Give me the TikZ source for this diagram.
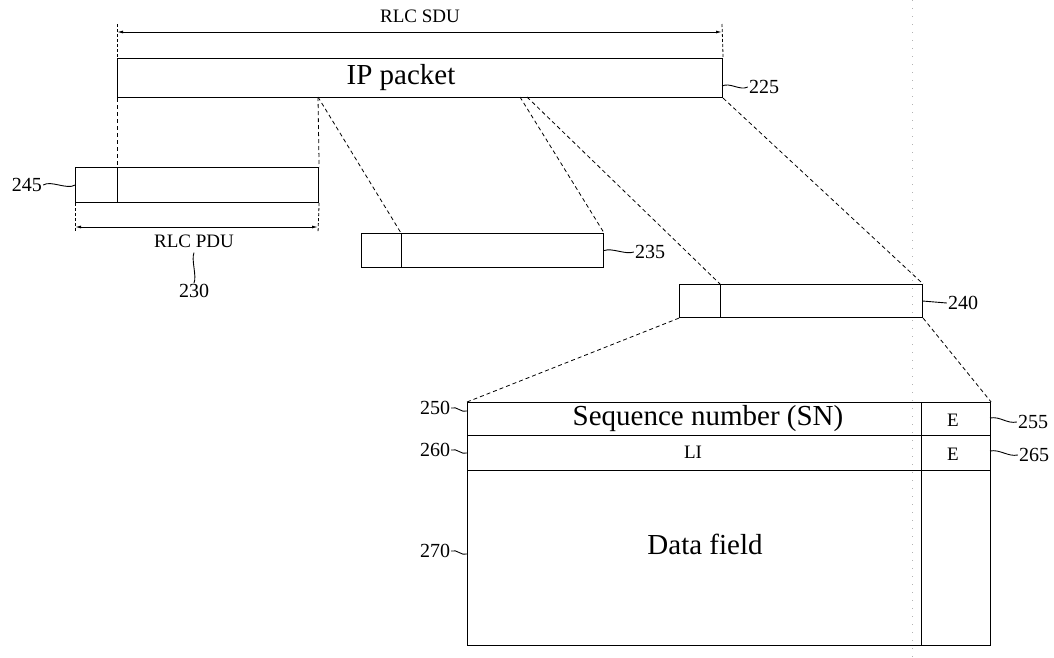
\documentclass[tikz,border=0pt]{standalone}
\usepackage{fontspec}
\setmainfont{Liberation Serif}
\usetikzlibrary{arrows.meta}
\begin{document}
\begin{tikzpicture}[x=1pt,y=-1pt,
  box/.style={draw, line width=1.1pt, rectangle, inner sep=0pt, anchor=north west},
  big/.style={font=\fontsize{29}{30}\selectfont, inner sep=0pt},
  num/.style={font=\fontsize{20}{21}\selectfont, inner sep=1pt},
  lbl/.style={font=\fontsize{19}{20}\selectfont, inner sep=1pt},
  proj/.style={line width=0.8pt, dash pattern=on 4pt off 3pt},
  ext/.style={line width=0.8pt, dash pattern=on 3pt off 2pt},
  dimline/.style={line width=0.9pt, {Latex[length=6pt,width=3pt]}-{Latex[length=6pt,width=3pt]}},
  leader/.style={line width=0.9pt},
  fold/.style={gray!60, line width=0.6pt, dash pattern=on 1pt off 7pt}
]
\useasboundingbox (0,0) rectangle (1054,657);

% faint fold line of the scan
\coordinate (foldt) at (912,0);
\coordinate (foldb) at (912,657);
\draw[fold] (foldt) -- (foldb);

% IP packet (RLC SDU)
\node[box, minimum width=605pt, minimum height=39pt] (ip) at (117,58) {};
\node[big] (iptext) at (401,78) {IP packet};
\coordinate (ipa) at (318,97);
\coordinate (ipb) at (520,97);
\coordinate (ipc) at (527,97);
\coordinate (ip225) at (722,86);

% RLC SDU dimension
\coordinate (sdul) at (117,32);
\coordinate (sdur) at (722,32);
\coordinate (sdulx) at (117,24);
\coordinate (sdurx) at (722,24);
\draw[ext] (sdulx) -- (ip.north west);
\draw[ext] (sdurx) -- (ip.north east);
\draw[dimline] (sdul) -- (sdur);
\node[lbl] (sdutext) at (420,16) {RLC SDU};

% RLC PDU 245
\node[box, minimum width=42pt, minimum height=35pt] (h245) at (75,167) {};
\node[box, minimum width=201pt, minimum height=35pt] (p245) at (117,167) {};

% RLC PDU dimension
\coordinate (pdul) at (75,227);
\coordinate (pdur) at (318,227);
\coordinate (pdulx) at (75,233);
\coordinate (pdurx) at (318,233);
\draw[ext] (h245.south west) -- (pdulx);
\draw[ext] (p245.south east) -- (pdurx);
\draw[dimline] (pdul) -- (pdur);
\node[lbl] (pdutext) at (194,241) {RLC PDU};
\node[num] (n230) at (194,291) {230};
\path (pdutext.south) ++(0,4) coordinate (l230a);
\draw[leader] (l230a) .. controls +(-3,7) and +(3,-7) .. (n230.north);

% PDU 235
\node[box, minimum width=40pt, minimum height=34pt] (h235) at (361,233) {};
\node[box, minimum width=202pt, minimum height=34pt] (p235) at (401,233) {};

% PDU 240
\node[box, minimum width=41pt, minimum height=33pt] (h240) at (679,284) {};
\node[box, minimum width=202pt, minimum height=33pt] (p240) at (720,284) {};

% header detail
\node[box, minimum width=454pt, minimum height=33pt] (sn) at (467,402) {};
\node[box, minimum width=69pt, minimum height=33pt] (e1) at (921,402) {};
\node[box, minimum width=454pt, minimum height=35pt] (li) at (467,435) {};
\node[box, minimum width=69pt, minimum height=35pt] (e2) at (921,435) {};
\node[box, minimum width=454pt, minimum height=175pt] (data) at (467,470) {};
\node[box, minimum width=69pt, minimum height=175pt] (e3) at (921,470) {};
\node[big] (sntext) at (708,419) {Sequence number (SN)};
\node[lbl] (litext) at (693,452) {LI};
\node[lbl] (e1text) at (953,420) {E};
\node[lbl] (e2text) at (953,454) {E};
\node[big] (datatext) at (705,544) {Data field};

% projection lines
\draw[proj] (ip.south west) -- (p245.north west);
\draw[proj] (ipa) -- (p245.north east);
\draw[proj] (ipa) -- (p235.north west);
\draw[proj] (ipb) -- (p235.north east);
\draw[proj] (ipc) -- (p240.north west);
\draw[proj] (ip.south east) -- (p240.north east);
\draw[proj] (h240.south west) -- (sn.north west);
\draw[proj] (p240.south east) -- (e1.north east);

% reference numerals with leaders
\node[num] (n225) at (764,87) {225};
\draw[leader] (ip225) .. controls +(8,-4) and +(-8,4) .. (n225.west);

\node[num] (n245) at (27,185) {245};
\draw[leader] (n245.east) .. controls +(8,-5) and +(-8,5) .. (h245.west);

\node[num] (n235) at (650,252) {235};
\draw[leader] (p235.east) .. controls +(8,-3) and +(-8,3) .. (n235.west);

\node[num] (n240) at (963,303) {240};
\draw[leader] (p240.east) -- (n240.west);

\node[num] (n250) at (435,408) {250};
\coordinate (c250) at (467,411);
\draw[leader] (n250.east) .. controls +(6,-2) and +(-6,2) .. (c250);

\node[num] (n260) at (435,450) {260};
\coordinate (c260) at (467,453);
\draw[leader] (n260.east) .. controls +(6,-2) and +(-6,2) .. (c260);

\node[num] (n270) at (435,551) {270};
\coordinate (c270) at (467,554);
\draw[leader] (n270.east) .. controls +(6,-2) and +(-6,2) .. (c270);

\node[num] (n255) at (1033,422) {255};
\coordinate (c255) at (990,418);
\draw[leader] (c255) .. controls +(10,-2) and +(-10,2) .. (n255.west);

\node[num] (n265) at (1034,455) {265};
\coordinate (c265) at (990,451);
\draw[leader] (c265) .. controls +(10,-2) and +(-10,2) .. (n265.west);
\end{tikzpicture}
\end{document}
